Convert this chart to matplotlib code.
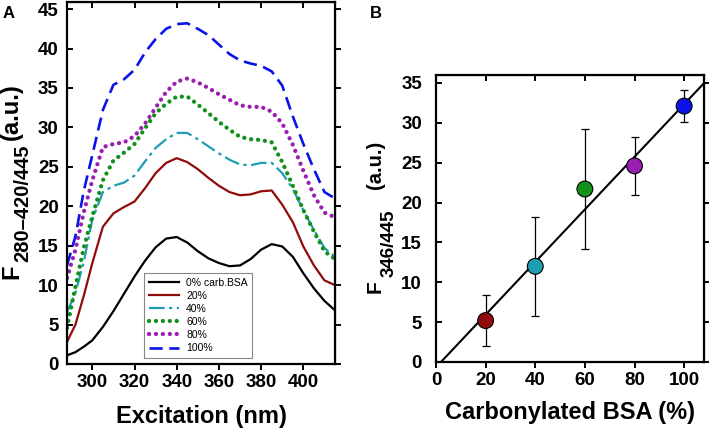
import matplotlib
matplotlib.use('Agg')
import matplotlib.pyplot as plt
from matplotlib.transforms import IdentityTransform
import numpy as np

plt.rcParams['font.family'] = ['Liberation Sans', 'DejaVu Sans']

# ── Panel A data: excitation spectra ─────────────────────────────────────────
wavelength = [288, 292, 296, 300, 305, 310, 315, 320, 325, 330, 335, 340, 345, 350,
              355, 360, 365, 370, 375, 380, 385, 390, 395, 400, 405, 410, 415]
f_0 = [1.1, 1.5, 2.2, 3.0, 4.7, 6.7, 8.9, 11.1, 13.1, 14.8, 15.9, 16.1, 15.4, 14.3,
       13.4, 12.8, 12.4, 12.5, 13.3, 14.5, 15.2, 14.9, 13.6, 11.5, 9.6, 8.0, 6.8]
f_20 = [2.8, 5.0, 8.7, 12.8, 17.4, 19.1, 19.9, 20.6, 22.3, 24.2, 25.5, 26.1, 25.6, 24.7,
        23.6, 22.6, 21.8, 21.4, 21.5, 21.9, 22.0, 20.2, 18.0, 14.9, 12.5, 10.6, 10.0]
f_40 = [6.6, 9.0, 13.0, 18.3, 21.8, 22.6, 23.0, 23.9, 25.7, 27.4, 28.5, 29.3, 29.3, 28.5,
        27.6, 26.7, 25.9, 25.3, 25.2, 25.5, 25.5, 24.2, 22.2, 19.5, 17.0, 14.7, 13.6]
f_60 = [4.6, 9.8, 14.8, 18.7, 23.3, 25.8, 26.8, 27.9, 29.9, 31.8, 33.0, 33.9, 33.9, 32.9,
        31.8, 30.7, 29.7, 28.8, 28.5, 28.4, 28.1, 25.6, 22.6, 19.5, 16.8, 14.3, 13.3]
f_80 = [10.9, 14.5, 19.3, 23.3, 27.5, 27.9, 28.1, 28.9, 30.5, 32.5, 34.5, 35.8, 36.2, 35.7,
        35.0, 34.2, 33.5, 32.8, 32.6, 32.6, 32.0, 30.5, 27.8, 24.5, 21.4, 19.2, 18.6]
f_100 = [12.5, 16.2, 22.0, 26.5, 32.2, 35.4, 36.1, 37.3, 39.5, 41.2, 42.5, 43.1, 43.2, 42.5,
         41.7, 40.5, 39.3, 38.5, 38.1, 37.8, 37.1, 35.3, 31.4, 27.9, 24.7, 21.8, 21.0]
spectra_labels = ['0% carb.BSA', '20%', '40%', '60%', '80%', '100%']

# ── Panel B data: F346/445 vs carbonylated BSA ───────────────────────────────
carb_pct = [20, 40, 60, 80, 100]
f346 = [5.2, 12.0, 21.7, 24.6, 32.1]
f346_err = [3.2, 6.2, 7.5, 3.6, 2.0]
fit_slope, fit_intercept = 0.33, -0.66

BLACK, RED, CYAN, GREEN, PURPLE, BLUE = '#000000', '#920b0b', '#1f9db3', '#12901a', '#9a1fb0', '#0a14e6'

W, H = 709, 429
fig = plt.figure(figsize=(W / 100, H / 100), dpi=100)
axA = fig.add_axes([67 / W, 1 - 364 / H, 268 / W, 362 / H])
axB = fig.add_axes([436 / W, 1 - 362 / H, 268 / W, 287 / H])

dot = dict(ls=(0, (0.01, 1.6)), lw=3.1, dash_capstyle='round')
styles = [
    (f_0, dict(color=BLACK, lw=1.6, ls='-')),
    (f_20, dict(color=RED, lw=1.6, ls='-')),
    (f_40, dict(color=CYAN, lw=1.6, ls=(0, (7, 2, 1.5, 2)))),
    (f_60, dict(color=GREEN, **dot)),
    (f_80, dict(color=PURPLE, **dot)),
    (f_100, dict(color=BLUE, lw=1.9, ls=(0, (5, 2.5)))),
]
for (vals, st), lab in zip(styles, spectra_labels):
    axA.plot(wavelength, vals, label=lab, **st)

axA.set_xlim(288, 415)
axA.set_ylim(0, 45.9)
axA.set_xticks([300, 320, 340, 360, 380, 400])
axA.set_yticks(np.arange(0, 46, 5))
axA.set_xlabel('Excitation (nm)', fontsize=17, fontweight='bold', labelpad=10)
leg = axA.legend(loc='lower left', bbox_to_anchor=(0.287, 0.017), borderaxespad=0,
                 fontsize=7.5, handlelength=2.9, labelspacing=0.3, borderpad=0.45,
                 handletextpad=0.7, fancybox=False, edgecolor='#888888', framealpha=1)
leg.get_frame().set_linewidth(0.8)

# Panel B
xs = np.array([0, 108])
axB.plot(xs, fit_slope * xs + fit_intercept, color='black', lw=1.5, zorder=2)
point_colors = [RED, CYAN, GREEN, PURPLE, BLUE]
axB.errorbar(carb_pct, f346, yerr=f346_err, fmt='none', ecolor='black',
             elinewidth=0.9, capsize=3, capthick=0.9, zorder=3)
axB.scatter(carb_pct, f346, s=130, c=point_colors, edgecolors='black',
            linewidths=0.8, zorder=4)
axB.set_xlim(0, 108)
axB.set_ylim(0, 36)
axB.set_xticks([0, 20, 40, 60, 80, 100])
axB.set_yticks(np.arange(0, 36, 5))
axB.set_xlabel('Carbonylated BSA (%)', fontsize=17, fontweight='bold', labelpad=9)

for ax, ypad in ((axA, 6), (axB, 10)):
    for sp in ax.spines.values():
        sp.set_linewidth(1.6)
    ax.tick_params(axis='x', direction='out', length=4, width=1.4, labelsize=13.5, pad=3)
    ax.tick_params(axis='y', direction='in', length=4, width=1.4, labelsize=13.5, pad=ypad)
    for lab in ax.get_xticklabels() + ax.get_yticklabels():
        lab.set_fontweight('bold')
    top = ax.secondary_xaxis('top')
    top.set_xticks(ax.get_xticks())
    top.tick_params(direction='in', length=4, width=1.4, labeltop=False)
    right = ax.secondary_yaxis('right')
    right.set_yticks(ax.get_yticks())
    right.tick_params(direction='out', length=4, width=1.4, labelright=False)


# y labels with large subscripts, built from rotated pieces (pixel positions)
def rot_text(x_px, y_px, s, size):
    fig.text(x_px, H - y_px, s, transform=IdentityTransform(), rotation=90,
             rotation_mode='anchor', ha='left', va='baseline',
             fontsize=size, fontweight='bold')


rot_text(18, 279, 'F', 17)
rot_text(28, 262, '280\u2013420/445', 14.5)
rot_text(18, 140, '(a.u.)', 17)

rot_text(381, 293, 'F', 15)
rot_text(394, 277, '346/445', 13.5)
rot_text(381, 189, '(a.u.)', 14.5)

fig.text(3 / W, 1 - 14 / H, 'A', fontsize=12, fontweight='bold', ha='left', va='center')
fig.text(370 / W, 1 - 13 / H, 'B', fontsize=12, fontweight='bold', ha='left', va='center')

fig.savefig('out.png', dpi=100)
